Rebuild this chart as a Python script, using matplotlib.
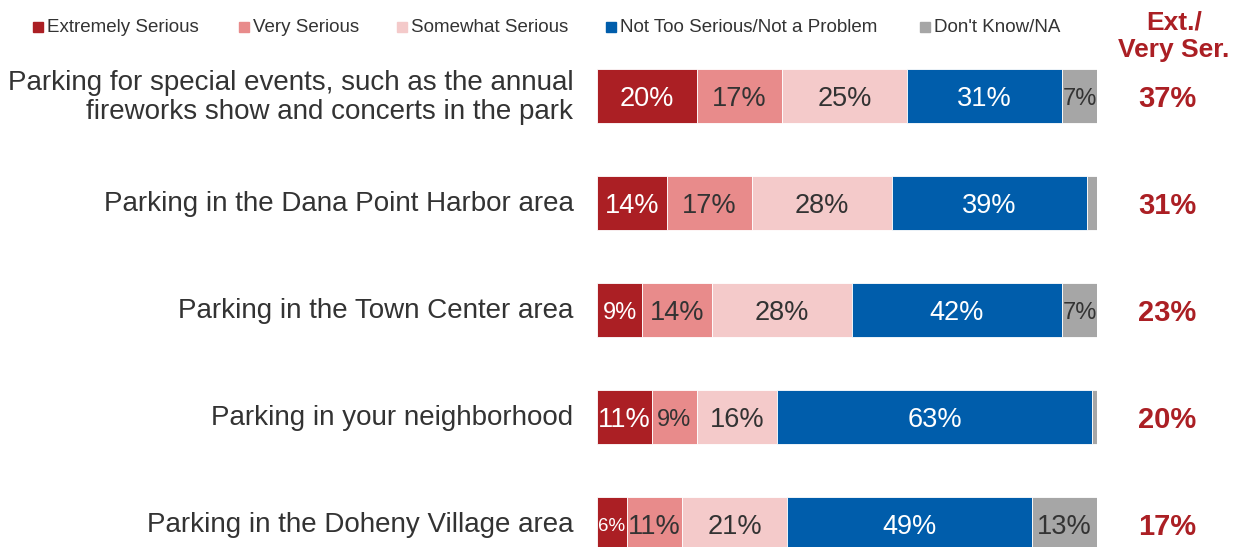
import matplotlib
matplotlib.use("Agg")
import matplotlib.pyplot as plt
from matplotlib.patches import Rectangle

plt.rcParams["font.family"] = ["Liberation Sans", "DejaVu Sans"]

categories = [
    "Parking for special events, such as the annual\nfireworks show and concerts in the park",
    "Parking in the Dana Point Harbor area",
    "Parking in the Town Center area",
    "Parking in your neighborhood",
    "Parking in the Doheny Village area",
]
series_names = ["Extremely Serious", "Very Serious", "Somewhat Serious",
                "Not Too Serious/Not a Problem", "Don't Know/NA"]
extremely = [20, 14, 9, 11, 6]
very = [17, 17, 14, 9, 11]
somewhat = [25, 28, 28, 16, 21]
not_too = [31, 39, 42, 63, 49]
dont_know = [7, 2, 7, 1, 13]
ext_very = [37, 31, 23, 20, 17]

series = [extremely, very, somewhat, not_too, dont_know]
colors = ["#AB1F24", "#E88B8B", "#F4CACA", "#005DAB", "#A6A6A6"]
text_colors = ["white", "#333333", "#333333", "white", "#333333"]
accent = "#AB1F24"

W, H = 1237, 547
fig = plt.figure(figsize=(W / 100, H / 100), dpi=100)
ax = fig.add_axes([597 / W, 0, 500 / W, 1])

rows = list(range(len(categories)))
left = [0] * len(categories)
for vals, col, tcol in zip(series, colors, text_colors):
    ax.barh(rows, vals, left=left, height=0.514, color=col,
            edgecolor="white", linewidth=0.6)
    for r, v, l in zip(rows, vals, left):
        if v < 3:
            continue
        fs = 19.5 if v >= 10 else (17 if v >= 7 else 13.5)
        ax.annotate(f"{v}%", (l + v / 2, r), xytext=(0, -2),
                    textcoords="offset points", ha="center", va="center",
                    color=tcol, fontsize=fs)
    left = [a + b for a, b in zip(left, vals)]

ax.set_xlim(0, 100)
ax.set_ylim((547 - 96) / 107, -96 / 107)
ax.set_xticks([])
ax.set_yticks([])
for s in ax.spines.values():
    s.set_visible(False)

# Category labels, right-aligned just left of the bars
for r, name in zip(rows, categories):
    dy = -1.0 if "\n" in name else -0.5
    ax.annotate(name, (0, r), xytext=(-17, dy), textcoords="offset points",
                ha="right", va="center", multialignment="right",
                fontsize=20, color="#333333", linespacing=1.15,
                annotation_clip=False)

# Ext./Very Serious totals column, aligned with the bar rows
for r, v in zip(rows, ext_very):
    ax.annotate(f"{v}%", (1167 / W, r), xycoords=("figure fraction", "data"),
                xytext=(0, -2), textcoords="offset points", ha="center",
                va="center", color=accent, fontsize=21, fontweight="bold",
                annotation_clip=False)
fig.text(1174 / W, 1 - 36 / H, "Ext./\nVery Ser.", ha="center", va="center",
         color=accent, fontsize=19, fontweight="bold", linespacing=1.2)

# Legend row
legend_x = [33, 239, 397, 606, 920]
for name, col, x in zip(series_names, colors, legend_x):
    fig.patches.append(Rectangle((x / W, 1 - 32 / H), 10 / W, 10 / H,
                                 transform=fig.transFigure, color=col))
    fig.text((x + 14) / W, 1 - 28 / H, name, ha="left", va="center",
             fontsize=13.5, color="#333333")

fig.savefig("out.png", dpi=100)
